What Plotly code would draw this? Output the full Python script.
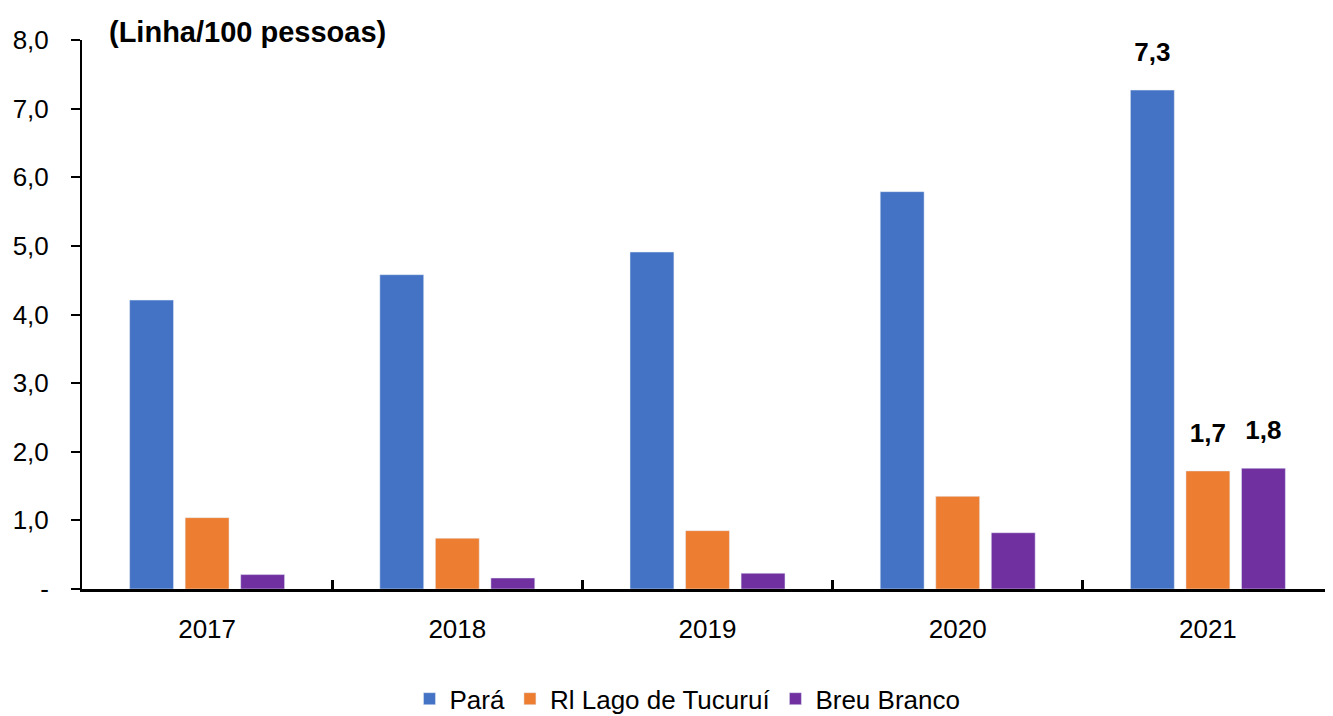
import plotly.graph_objects as go

anos = ['2017', '2018', '2019', '2020', '2021']
para = [4.21, 4.58, 4.91, 5.79, 7.27]
lago_tucurui = [1.04, 0.74, 0.85, 1.35, 1.72]
breu_branco = [0.21, 0.16, 0.23, 0.82, 1.76]

rotulos_para = ['', '', '', '', '7,3']
rotulos_lago = ['', '', '', '', '1,7']
rotulos_breu = ['', '', '', '', '1,8']

y_tickvals = [0, 1, 2, 3, 4, 5, 6, 7, 8]
y_ticktext = ['-', '1,0', '2,0', '3,0', '4,0', '5,0', '6,0', '7,0', '8,0']

FONTE = 'Liberation Sans, Arial'

fig = go.Figure()
for nome, vals, rot, cor in [
    ('Pará', para, rotulos_para, '#4472C4'),
    ('Rl Lago de Tucuruí', lago_tucurui, rotulos_lago, '#ED7D31'),
    ('Breu Branco', breu_branco, rotulos_breu, '#7030A0'),
]:
    # linha em branco menor para afastar o rótulo da barra
    fig.add_trace(go.Bar(name=nome, x=anos, y=vals, text=rot, textposition='outside',
                         texttemplate='<span style="font-size:26px">%{text}</span><br> ',
                         marker=dict(color=cor), cliponaxis=False,
                         textfont=dict(family=FONTE, size=17, color='black', weight='bold')))

fig.update_xaxes(showline=True, linecolor='black', linewidth=2.5, ticks='inside',
                 tickson='boundaries', ticklen=9, tickwidth=2.5, tickcolor='black',
                 ticklabelstandoff=15, automargin=False,
                 tickfont=dict(family=FONTE, size=26, color='black'), showgrid=False)
fig.update_yaxes(showline=True, linecolor='black', linewidth=2, ticks='outside',
                 ticklen=9, tickwidth=2, tickcolor='black', range=[0, 8],
                 ticklabelstandoff=17, automargin=False,
                 tickvals=y_tickvals, ticktext=y_ticktext, showgrid=False, zeroline=False,
                 tickfont=dict(family=FONTE, size=26, color='black'))

fig.update_layout(width=1325, height=708, barmode='group', bargap=0.334, bargroupgap=0.21,
                  plot_bgcolor='white', paper_bgcolor='white',
                  margin={'l': 74, 'r': 0, 't': 32, 'b': 127, 'autoexpand': False},
                  legend=dict(orientation='h', x=0.484, xanchor='center', y=-0.2, yanchor='middle',
                              font=dict(family=FONTE, size=26, color='black')),
                  annotations=[dict(text='<b>(Linha/100 pessoas)</b>', xref='paper', yref='paper',
                                    x=0.02, y=1.015, xanchor='left', yanchor='middle', showarrow=False,
                                    font=dict(family=FONTE, size=29, color='black'))])

fig.write_html('out.html')
